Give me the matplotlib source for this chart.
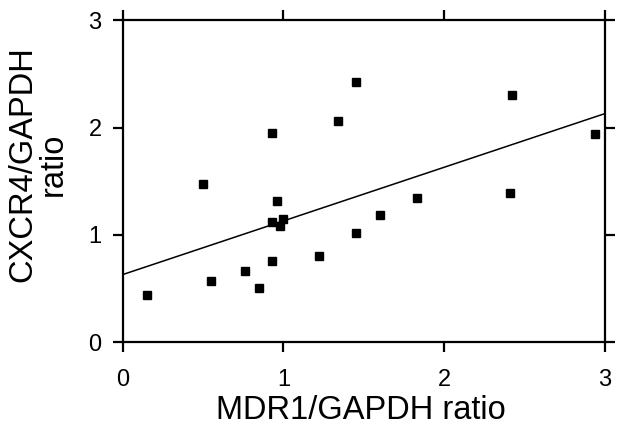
import matplotlib.pyplot as plt
import numpy as np

# points
mdr1 = [0.15, 0.50, 0.55, 0.76, 0.85, 0.93, 0.93, 0.93, 0.96, 0.98, 1.00,
        1.22, 1.34, 1.45, 1.45, 1.60, 1.83, 2.41, 2.42, 2.94]
cxcr4 = [0.44, 1.47, 0.57, 0.66, 0.51, 0.76, 1.12, 1.95, 1.32, 1.08, 1.15,
         0.80, 2.06, 2.42, 1.02, 1.19, 1.34, 1.39, 2.30, 1.94]

# regression line (intercept, slope) as drawn
fit_intercept = 0.63
fit_slope = 0.50

ticks = [0, 1, 2, 3]

plt.rcParams['font.family'] = ['Liberation Sans', 'DejaVu Sans']

fig = plt.figure(figsize=(6.25, 4.38), dpi=100)
ax = fig.add_axes([0.196, 0.2185, 0.772, 0.7355])

ax.plot(mdr1, cxcr4, 's', color='black', markersize=5.2, linestyle='none')

xl = np.array([0, 3])
ax.plot(xl, fit_intercept + fit_slope * xl, color='black', linewidth=1.1)

ax.set_xlim(0, 3)
ax.set_ylim(0, 3)
ax.set_xticks(ticks)
ax.set_yticks(ticks)

for s in ax.spines.values():
    s.set_linewidth(1.6)

ax.tick_params(direction='out', length=7, width=1.6, labelsize=17,
               top=True, right=True, labeltop=False, labelright=False)
ax.tick_params(axis='x', pad=12)
ax.tick_params(axis='y', pad=8)

ax.set_xlabel('MDR1/GAPDH ratio', fontsize=23.5)
ax.xaxis.label.set_va('center')
ax.xaxis.set_label_coords(0.495, -0.213)

ax.set_ylabel('CXCR4/GAPDH\nratio', fontsize=23.5, linespacing=1.0)
ax.yaxis.label.set_va('center')
ax.yaxis.set_label_coords(-0.175, 0.553)

fig.savefig('out.png', dpi=100)
